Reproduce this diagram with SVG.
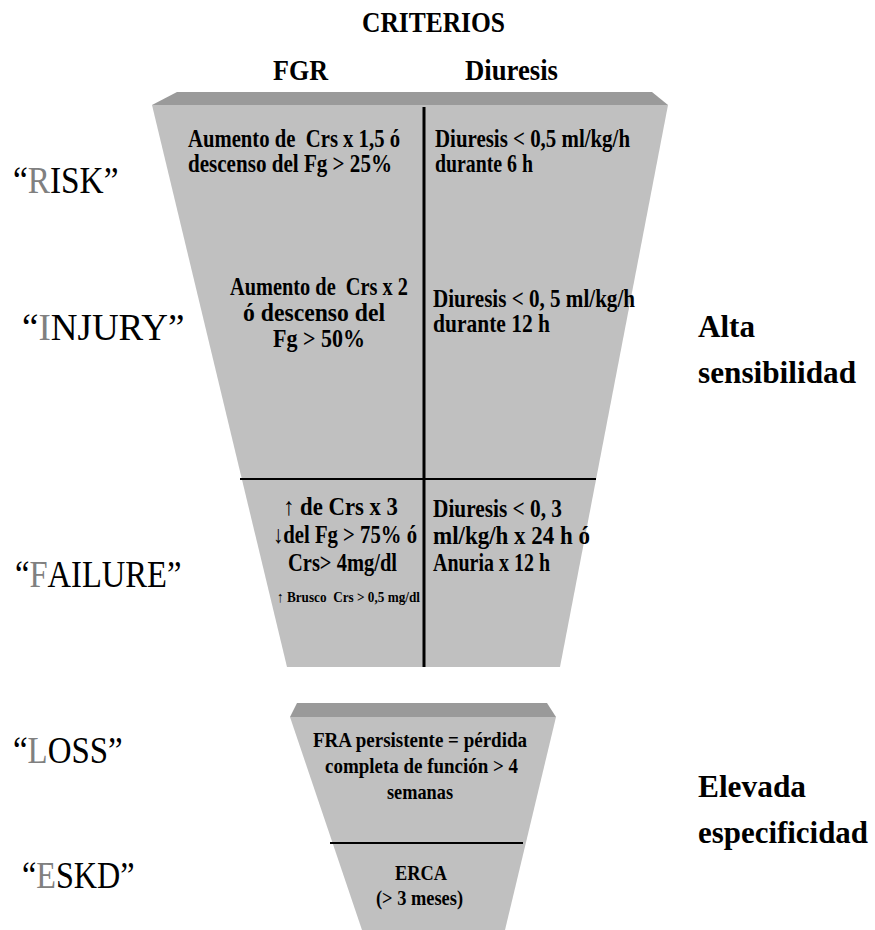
<svg xmlns="http://www.w3.org/2000/svg" width="875" height="930" viewBox="0 0 875 930">
<style>
  text { font-family: "Liberation Serif", "Times New Roman", serif; fill: #000; }
  .hdr { font-size: 29px; font-weight: bold; }
  .cell { font-size: 25px; font-weight: bold; }
  .cellL { font-size: 22px; font-weight: bold; }
  .small { font-size: 15px; font-weight: bold; }
  .lbl { font-size: 37px; }
  .first { fill: #808080; }
  .side { font-size: 32px; font-weight: bold; }
  .body { fill: #c0c0c0; }
  .band { fill: #9a9a9a; }
  .div { stroke: #000; fill: none; }
</style>
<rect width="875" height="930" fill="#fff"/>

<g id="header">
  <text class="hdr" x="362" y="32" textLength="143" lengthAdjust="spacingAndGlyphs">CRITERIOS</text>
  <text class="hdr" x="273" y="80" textLength="55" lengthAdjust="spacingAndGlyphs">FGR</text>
  <text class="hdr" x="465" y="80" textLength="93" lengthAdjust="spacingAndGlyphs">Diuresis</text>
</g>

<g id="funnel-upper">
  <polygon class="body" points="152,105 668,105 560,667 287,667"/>
  <polygon class="band" points="177,92 652,92 668,105 152,105"/>
</g>

<g id="funnel-lower">
  <polygon class="body" points="290,717 556,717 505,930 362,930"/>
  <polygon class="band" points="297,703 547,703 556,717 290,717"/>
</g>

<g id="dividers">
  <line class="div" x1="424" y1="107" x2="424" y2="667" stroke-width="3"/>
  <line class="div" x1="240" y1="479" x2="596" y2="479" stroke-width="2"/>
  <line class="div" x1="330" y1="843" x2="523" y2="843" stroke-width="2"/>
</g>

<g id="label-risk"><text class="lbl" transform="translate(13,193) scale(0.9,1)">“<tspan class="first">R</tspan>ISK”</text></g>
<g id="label-injury"><text class="lbl" transform="translate(22,340) scale(1.0,1)">“<tspan class="first">I</tspan>NJURY”</text></g>
<g id="label-failure"><text class="lbl" transform="translate(15,587) scale(0.88,1)">“<tspan class="first">F</tspan>AILURE”</text></g>
<g id="label-loss"><text class="lbl" transform="translate(13,763) scale(0.89,1)">“<tspan class="first">L</tspan>OSS”</text></g>
<g id="label-eskd"><text class="lbl" transform="translate(22,888) scale(0.87,1)">“<tspan class="first">E</tspan>SKD”</text></g>

<g id="side-sensibilidad">
  <text class="side" x="698" y="337" textLength="57" lengthAdjust="spacingAndGlyphs">Alta</text>
  <text class="side" x="698" y="383" textLength="158" lengthAdjust="spacingAndGlyphs">sensibilidad</text>
</g>
<g id="side-especificidad">
  <text class="side" x="698" y="797" textLength="108" lengthAdjust="spacingAndGlyphs">Elevada</text>
  <text class="side" x="698" y="843" textLength="170" lengthAdjust="spacingAndGlyphs">especificidad</text>
</g>

<g id="cell-risk-fgr">
  <text class="cell" x="188" y="147" textLength="212" lengthAdjust="spacingAndGlyphs">Aumento de&#160; Crs x 1,5 ó</text>
  <text class="cell" x="188" y="172" textLength="204" lengthAdjust="spacingAndGlyphs">descenso del Fg &gt; 25%</text>
</g>
<g id="cell-risk-diuresis">
  <text class="cell" x="435" y="147" textLength="195" lengthAdjust="spacingAndGlyphs">Diuresis &lt; 0,5 ml/kg/h</text>
  <text class="cell" x="435" y="172" textLength="98" lengthAdjust="spacingAndGlyphs">durante 6 h</text>
</g>

<g id="cell-injury-fgr">
  <text class="cell" x="230" y="295" textLength="178" lengthAdjust="spacingAndGlyphs">Aumento de&#160; Crs x 2</text>
  <text class="cell" x="243" y="321" textLength="142" lengthAdjust="spacingAndGlyphs">ó descenso del</text>
  <text class="cell" x="273" y="347" textLength="92" lengthAdjust="spacingAndGlyphs">Fg &gt; 50%</text>
</g>
<g id="cell-injury-diuresis">
  <text class="cell" x="433" y="307" textLength="202" lengthAdjust="spacingAndGlyphs">Diuresis &lt; 0, 5 ml/kg/h</text>
  <text class="cell" x="433" y="332" textLength="117" lengthAdjust="spacingAndGlyphs">durante 12 h</text>
</g>

<g id="cell-failure-fgr">
  <text class="cell" x="283" y="515" textLength="115" lengthAdjust="spacingAndGlyphs">↑ de Crs x 3</text>
  <text class="cell" x="273" y="543" textLength="144" lengthAdjust="spacingAndGlyphs">↓del Fg &gt; 75% ó</text>
  <text class="cell" x="288" y="571" textLength="109" lengthAdjust="spacingAndGlyphs">Crs&gt; 4mg/dl</text>
  <text class="small" x="277" y="602" textLength="143" lengthAdjust="spacingAndGlyphs">↑ Brusco&#160; Crs &gt; 0,5 mg/dl</text>
</g>
<g id="cell-failure-diuresis">
  <text class="cell" x="433" y="517" textLength="129" lengthAdjust="spacingAndGlyphs">Diuresis &lt; 0, 3</text>
  <text class="cell" x="433" y="544" textLength="157" lengthAdjust="spacingAndGlyphs">ml/kg/h x 24 h ó</text>
  <text class="cell" x="433" y="571" textLength="117" lengthAdjust="spacingAndGlyphs">Anuria x 12 h</text>
</g>

<g id="cell-loss">
  <text class="cellL" x="313" y="747" textLength="214" lengthAdjust="spacingAndGlyphs">FRA persistente = pérdida</text>
  <text class="cellL" x="325" y="773" textLength="193" lengthAdjust="spacingAndGlyphs">completa de función &gt; 4</text>
  <text class="cellL" x="387" y="799" textLength="66" lengthAdjust="spacingAndGlyphs">semanas</text>
</g>
<g id="cell-eskd">
  <text class="cellL" x="395" y="880" textLength="52" lengthAdjust="spacingAndGlyphs">ERCA</text>
  <text class="cellL" x="376" y="905" textLength="87" lengthAdjust="spacingAndGlyphs">(&gt; 3 meses)</text>
</g>
</svg>
